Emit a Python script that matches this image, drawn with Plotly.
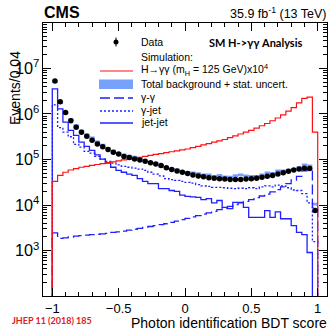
import numpy as np
import plotly.graph_objects as go

# ---------------- data (Events / 0.04, 50 bins from -1 to 1) ----------------
bin_edges = np.linspace(-1.0, 1.0, 51)
bin_centers = 0.5 * (bin_edges[:-1] + bin_edges[1:])

data_counts = [5.25e6, 1.86e6, 1.07e6, 7.08e5, 5.13e5, 3.98e5, 3.24e5, 2.63e5, 2.19e5, 1.91e5,
               1.66e5, 1.45e5, 1.32e5, 1.17e5, 1.10e5, 1.02e5, 9.77e4, 9.12e4, 8.51e4, 7.94e4,
               7.41e4, 6.61e4, 6.03e4, 5.62e4, 5.25e4, 4.90e4, 4.57e4, 4.37e4, 4.17e4, 3.98e4,
               3.89e4, 3.80e4, 3.72e4, 3.63e4, 3.63e4, 3.63e4, 3.72e4, 3.80e4, 3.89e4, 4.07e4,
               4.27e4, 4.47e4, 4.79e4, 5.13e4, 5.50e4, 5.89e4, 6.17e4, 6.46e4, 6.31e4, 7.59e3]

signal_x1e4 = [3.31e4, 4.47e4, 5.25e4, 5.89e4, 6.31e4, 6.76e4, 7.08e4, 7.41e4, 7.76e4, 8.13e4,
               8.51e4, 8.91e4, 9.33e4, 9.77e4, 1.02e5, 1.07e5, 1.12e5, 1.17e5, 1.23e5, 1.29e5,
               1.35e5, 1.41e5, 1.48e5, 1.55e5, 1.62e5, 1.70e5, 1.82e5, 1.95e5, 2.09e5, 2.24e5,
               2.40e5, 2.57e5, 2.75e5, 3.02e5, 3.31e5, 3.63e5, 3.98e5, 4.37e5, 4.90e5, 5.50e5,
               6.17e5, 7.08e5, 8.13e5, 9.55e5, 1.15e6, 1.38e6, 1.74e6, 2.19e6, 2.34e6, 3.98e5]

gamma_gamma = [2455, 1862, 1905, 1995, 2089, 2138, 2188, 2239, 2291, 2344,
               2399, 2512, 2570, 2692, 2818, 2951, 3090, 3236, 3388, 3548,
               3715, 3890, 4169, 4467, 4786, 5129, 5495, 5888, 6310, 6761,
               7244, 7943, 8511, 9333, 1.02e4, 1.12e4, 1.20e4, 1.32e4, 1.45e4, 1.58e4,
               1.74e4, 1.95e4, 2.19e4, 2.51e4, 2.95e4, 3.55e4, 4.27e4, 5.62e4, 6.03e4, 8913]

gamma_jet = [1.58e6, 5.01e5, 3.98e5, 3.16e5, 2.14e5, 1.86e5, 1.51e5, 1.38e5, 1.17e5, 1.02e5,
             9.12e4, 8.32e4, 7.59e4, 7.08e4, 6.76e4, 6.46e4, 6.17e4, 5.75e4, 5.25e4, 4.79e4,
             4.37e4, 3.80e4, 3.63e4, 3.47e4, 3.31e4, 3.16e4, 3.02e4, 2.82e4, 2.63e4, 2.57e4,
             2.45e4, 2.45e4, 2.40e4, 2.34e4, 2.29e4, 2.34e4, 2.29e4, 2.40e4, 2.29e4, 2.51e4,
             2.63e4, 2.51e4, 2.75e4, 2.63e4, 2.40e4, 2.14e4, 2.09e4, 1.78e4, 1.12e4, 1.58e3]

jet_jet = [3.55e6, 1.29e6, 6.61e5, 4.37e5, 3.39e5, 2.40e5, 1.95e5, 1.58e5, 1.26e5, 1.02e5,
           8.32e4, 6.76e4, 5.75e4, 5.25e4, 4.79e4, 4.47e4, 3.80e4, 3.31e4, 2.95e4, 2.95e4,
           2.29e4, 2.29e4, 2.09e4, 2.00e4, 1.66e4, 1.55e4, 1.51e4, 1.48e4, 1.32e4, 1.38e4,
           1.12e4, 1.26e4, 8.91e3, 8.32e3, 1.15e4, 1.15e4, 8.91e3, 5.37e3, 5.37e3, 5.37e3,
           7.59e3, 5.37e3, 7.08e3, 5.01e3, 5.01e3, 3.55e3, 2.51e3, 2.24e3, 912, 0]

bkg_rel_unc = 0.07

x_tick_step = 0.5
y_range_log = [2.005, 7.995]
x_range = [-1.07, 1.07]

# ---------------- helpers ----------------
FLOOR = 1.0  # below the visible axis range (log10 = 0)

def step_xy(vals):
    v = [float(a) if a > 0 else FLOOR for a in vals]
    xs = [bin_edges[0]] + list(bin_edges[:-1]) + [bin_edges[-1], bin_edges[-1]]
    ys = [FLOOR] + v + [v[-1], FLOOR]
    return xs, ys

BLUE = "#1f1fff"
RED = "#ff1010"
BAND = "rgba(95,145,250,0.85)"
FONT = "Liberation Sans, Arial, sans-serif"

fig = go.Figure()

total_bkg = np.array(gamma_gamma) + np.array(gamma_jet) + np.array(jet_jet)
lo = list(total_bkg * (1 - bkg_rel_unc))
hi = list(total_bkg * (1 + bkg_rel_unc))
fig.add_trace(go.Scatter(x=list(bin_edges), y=lo + [lo[-1]], mode="lines", line_shape="hv",
                         line=dict(width=0, color=BAND), showlegend=False, hoverinfo="skip"))
fig.add_trace(go.Scatter(x=list(bin_edges), y=hi + [hi[-1]], mode="lines", line_shape="hv",
                         line=dict(width=0, color=BAND), fill="tonexty", fillcolor=BAND,
                         showlegend=False, hoverinfo="skip"))

for vals, dash in [(gamma_gamma, "10px,4px"), (gamma_jet, "2px,2px"), (jet_jet, "solid")]:
    xs, ys = step_xy(vals)
    fig.add_trace(go.Scatter(x=xs, y=ys, mode="lines", line_shape="hv",
                             line=dict(color=BLUE, width=1.3, dash=dash), showlegend=False))

xs, ys = step_xy(signal_x1e4)
fig.add_trace(go.Scatter(x=xs, y=ys, mode="lines", line_shape="hv",
                         line=dict(color=RED, width=1.2), showlegend=False))

fig.add_trace(go.Scatter(x=list(bin_centers), y=data_counts, mode="markers",
                         marker=dict(color="black", size=5.5),
                         error_y=dict(type="data", array=list(np.sqrt(data_counts)),
                                      color="black", thickness=1, width=0),
                         showlegend=False))

# ---------------- layout ----------------
L, R, T, B = 43, 3, 23, 34
W = H = 330
PW, PH = W - L - R, H - T - B

def px(X):
    return (X - L) / PW

def py(Y):
    return (T + PH - Y) / PH

axis_common = dict(showline=True, linecolor="black", linewidth=1, mirror="ticks",
                   ticks="inside", ticklen=8, tickwidth=1, tickcolor="black",
                   showgrid=False, zeroline=False,
                   tickfont=dict(family=FONT, size=13, color="black"))

fig.update_layout(
    width=W, height=H, autosize=False,
    margin=dict(l=L, r=R, t=T, b=B, pad=0),
    paper_bgcolor="white", plot_bgcolor="white",
    showlegend=False,
    xaxis=dict(range=x_range, tick0=0, dtick=x_tick_step,
               minor=dict(ticks="inside", ticklen=4, dtick=0.1, tick0=0, tickcolor="black"),
               **axis_common),
    yaxis=dict(type="log", range=y_range_log, dtick=1, exponentformat="power",
               minor=dict(ticks="inside", ticklen=4, dtick="D1", tickcolor="black"),
               **axis_common),
)

ann = []
def text(X, Y, s, size=10.5, anchor="left", bold=False, color="black", family=FONT, angle=0, yanchor="middle"):
    ann.append(dict(x=px(X), y=py(Y), xref="paper", yref="paper", text=(f"<b>{s}</b>" if bold else s),
                    showarrow=False, xanchor=anchor, yanchor=yanchor, textangle=angle,
                    font=dict(size=size, color=color, family=family)))

text(42, 12.5, "CMS", size=16, bold=True)
text(329, 13, "35.9 fb<sup>-1</sup> (13 TeV)", size=12.5, anchor="right")
text(304, 43, "SM H->γγ Analysis", size=11, anchor="right", bold=True, family="Lato, Carlito, sans-serif")
text(15, 88, "Events/0.04", size=14, anchor="center", angle=-90)
text(329, 323, "Photon identification BDT score", size=14, anchor="right")
text(10, 320, "JHEP 11 (2018) 185", size=9, bold=True, color="#e02020", family="Lato, Carlito, sans-serif")

# legend texts
legend_x = 139
text(legend_x, 42, "Data")
text(legend_x, 57, "Simulation:")
text(legend_x, 70, "H→γγ (m<sub>H</sub> = 125 GeV)x10<sup>4</sup>")
text(legend_x, 84, "Total background + stat. uncert.")
text(legend_x, 97, "γ-γ")
text(legend_x, 110, "γ-jet")
text(legend_x, 122, "jet-jet")

shapes = []
def hline(Y, color, dash, width=1.3):
    shapes.append(dict(type="line", xref="paper", yref="paper", x0=px(100), x1=px(133),
                       y0=py(Y), y1=py(Y), line=dict(color=color, width=width, dash=dash)))

shapes.append(dict(type="line", xref="paper", yref="paper", x0=px(116), x1=px(116),
                   y0=py(37.5), y1=py(46.5), line=dict(color="black", width=1)))
shapes.append(dict(type="circle", xref="paper", yref="paper", x0=px(113.5), x1=px(118.5),
                   y0=py(44.5), y1=py(39.5), fillcolor="black", line=dict(color="black", width=0)))
hline(71, RED, "solid", 1.2)
shapes.append(dict(type="rect", xref="paper", yref="paper", x0=px(99), x1=px(133),
                   y0=py(89), y1=py(79.5), fillcolor=BAND, line=dict(width=0)))
hline(98, BLUE, "10px,4px")
hline(111, BLUE, "2px,2px")
hline(123, BLUE, "solid")

fig.update_layout(annotations=ann, shapes=shapes)

fig.write_html("out.html")
